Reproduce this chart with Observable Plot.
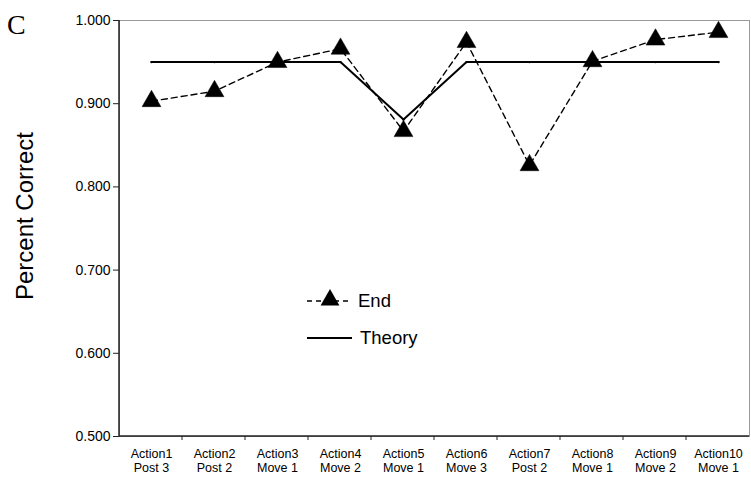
<!DOCTYPE html>
<html>
<head>
<meta charset="utf-8">
<script src="https://cdn.jsdelivr.net/npm/d3@7"></script>
<script src="https://cdn.jsdelivr.net/npm/@observablehq/plot@0.6"></script>
<style>
  html, body { margin: 0; padding: 0; background: #fff; }
  svg { display: block; }
</style>
</head>
<body>
<div id="chart"></div>
<script>
const categories = ["Action1","Action2","Action3","Action4","Action5","Action6","Action7","Action8","Action9","Action10"];
const subLabels = ["Post 3","Post 2","Move 1","Move 2","Move 1","Move 3","Post 2","Move 1","Move 2","Move 1"];
const endValues = [0.903, 0.915, 0.950, 0.966, 0.867, 0.974, 0.826, 0.951, 0.977, 0.986];
const theoryValues = [0.950, 0.950, 0.950, 0.950, 0.881, 0.950, 0.950, 0.950, 0.950, 0.950];
const yTicks = [0.5, 0.6, 0.7, 0.8, 0.9, 1.0];

const data = categories.map((c, i) => ({cat: c, sub: subLabels[i], end: endValues[i], theory: theoryValues[i]}));

const W = 751, H = 477;
const mL = 119, mR = 2, mT = 20, mB = 41;

const plot = Plot.plot({
  width: W,
  height: H,
  marginLeft: mL,
  marginRight: mR,
  marginTop: mT,
  marginBottom: mB,
  style: {fontFamily: "'Liberation Sans', Arial, sans-serif", fontSize: "14px", color: "#000", background: "#fff"},
  x: {type: "point", domain: categories, padding: 0.5, axis: null},
  y: {domain: [0.5, 1.0], axis: null},
  marks: [
    Plot.frame({stroke: "#999", strokeWidth: 1}),
    Plot.axisY({ticks: yTicks, tickFormat: d3.format(".3f"), tickSize: 6, tickPadding: 3, fontSize: 14, stroke: "#222", label: null}),
    Plot.text(data, {x: "cat", text: d => d.cat + "\n" + d.sub, frameAnchor: "bottom", lineAnchor: "top", dy: 12, fontSize: 12.5, lineHeight: 1.12, fill: "#000"}),
    Plot.line(data, {x: "cat", y: "theory", stroke: "#000", strokeWidth: 2}),
    Plot.dot(data, {x: "cat", y: "theory", r: 1.2, fill: "#000"}),
    Plot.line(data, {x: "cat", y: "end", stroke: "#000", strokeWidth: 1.4, strokeDasharray: "6,4"}),
    Plot.dot(data, {x: "cat", y: "end", symbol: "triangle", r: 7, fill: "#000", stroke: "#000", strokeWidth: 0.5})
  ]
});

const svg = d3.select(plot);
const ys = plot.scale("y");
const y0 = ys.apply(0.5), y1 = ys.apply(1.0);
const xLeft = mL, xRight = W - mR;

// dark left and bottom axis lines
svg.append("line").attr("x1", xLeft).attr("x2", xLeft).attr("y1", y1).attr("y2", y0).attr("stroke", "#222").attr("stroke-width", 1.5);
svg.append("line").attr("x1", xLeft).attr("x2", xRight).attr("y1", y0).attr("y2", y0).attr("stroke", "#222").attr("stroke-width", 1.5);
// x ticks at category boundaries
const step = (xRight - xLeft) / categories.length;
for (let i = 1; i < categories.length; i++) {
  const x = xLeft + i * step;
  svg.append("line").attr("x1", x).attr("x2", x).attr("y1", y0).attr("y2", y0 + 4).attr("stroke", "#222").attr("stroke-width", 1);
}

// panel letter
svg.append("text").attr("x", 7).attr("y", 34).attr("text-anchor", "start")
  .attr("font-family", "'Liberation Serif', 'Times New Roman', serif").attr("font-size", 28).attr("fill", "#000").text("C");

// y axis title
svg.append("text").attr("transform", "translate(33,216) rotate(-90)").attr("text-anchor", "middle")
  .attr("font-family", "'Liberation Sans', Arial, sans-serif").attr("font-size", 24).attr("fill", "#000").text("Percent Correct");

// legend
const lg = svg.append("g").attr("font-family", "'Liberation Sans', Arial, sans-serif").attr("font-size", 18.5).attr("fill", "#000").attr("text-anchor", "start");
lg.append("line").attr("x1", 307).attr("x2", 352).attr("y1", 301).attr("y2", 301).attr("stroke", "#000").attr("stroke-width", 1.4).attr("stroke-dasharray", "5,4");
lg.append("path").attr("d", d3.symbol(d3.symbolTriangle, Math.PI * 49)()).attr("transform", "translate(330,300)").attr("fill", "#000");
lg.append("text").attr("x", 358).attr("y", 301).attr("dy", "0.35em").text("End");
lg.append("line").attr("x1", 307).attr("x2", 352).attr("y1", 338).attr("y2", 338).attr("stroke", "#000").attr("stroke-width", 2);
lg.append("text").attr("x", 360).attr("y", 338).attr("dy", "0.35em").text("Theory");

document.getElementById("chart").appendChild(plot);
</script>
</body>
</html>
